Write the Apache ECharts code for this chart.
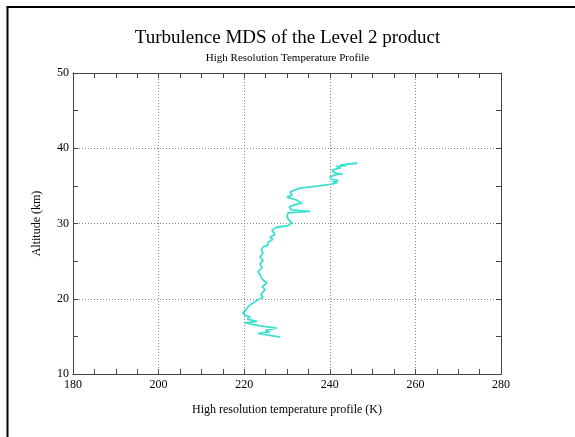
<!DOCTYPE html>
<html>
<head>
<meta charset="utf-8">
<script src="https://cdn.jsdelivr.net/npm/echarts@6/dist/echarts.min.js"></script>
<style>
  html, body { margin: 0; padding: 0; background: #fff; }
  #chart { width: 575px; height: 437px; }
</style>
</head>
<body>
<div id="chart"></div>
<script>
// High resolution temperature profile (K) against altitude (km), bottom to top
const temperatureK = [
  228.4, 223.2, 226.0, 224.9, 227.6, 223.7, 220.2, 223.0, 220.7, 221.4,
  220.2, 219.7, 220.3, 220.7, 221.4, 222.5, 223.7, 224.4, 223.9, 224.2,
  224.9, 224.2, 225.3, 224.4, 224.0, 223.7, 223.2, 224.2, 223.7, 224.4,
  223.7, 224.4, 224.0, 224.4, 225.5, 225.6, 226.7, 226.0, 227.2, 226.5,
  227.6, 230.2, 231.2, 230.4, 230.0, 230.2, 235.4, 231.0, 230.5, 231.9,
  233.5, 232.3, 230.0, 231.2, 230.7, 233.0, 237.5, 240.0, 241.7, 240.7,
  242.0, 240.3, 240.0, 241.5, 243.0, 241.2, 240.5, 242.5, 241.5, 244.0,
  242.4, 246.4, 243.5
];
const altitudeKm = [
  14.9, 15.4, 15.6, 15.8, 16.1, 16.4, 16.8, 17.0, 17.3, 17.6,
  17.8, 18.1, 18.4, 18.8, 19.2, 19.6, 20.0, 20.2, 20.5, 20.8,
  21.2, 21.6, 22.1, 22.5, 22.8, 23.2, 23.6, 24.1, 24.6, 25.1,
  25.5, 26.1, 26.5, 26.9, 27.1, 27.5, 27.9, 28.2, 28.5, 29.1,
  29.5, 29.7, 30.1, 30.5, 30.9, 31.4, 31.6, 31.8, 32.2, 32.5,
  32.7, 33.1, 33.5, 33.8, 34.2, 34.7, 35.0, 35.2, 35.4, 35.5,
  35.7, 35.9, 36.2, 36.5, 36.6, 36.7, 37.1, 37.4, 37.6, 37.7,
  37.8, 38.0, 37.9
];
const xTicks = [180, 200, 220, 240, 260, 280];
const yTicks = [10, 20, 30, 40, 50];

const serif = '"Liberation Serif", "DejaVu Serif", serif';
const frameColor = '#444';
const xMin = xTicks[0], xMax = xTicks[xTicks.length - 1];
const yMin = yTicks[0], yMax = yTicks[yTicks.length - 1];

const chart = echarts.init(document.getElementById('chart'), null, { renderer: 'canvas' });

// Main axis: labels and dotted grid lines; the extra axes draw the inward minor ticks on all sides
function xAxisMain() {
  return {
    type: 'value', position: 'bottom', min: xMin, max: xMax, interval: 20,
    name: 'High resolution temperature profile (K)', nameLocation: 'middle', nameGap: 30,
    nameTextStyle: { fontFamily: serif, fontSize: 12, color: '#000' },
    axisLine: { show: true, onZero: false, lineStyle: { color: frameColor, width: 1 } },
    axisTick: { show: false },
    axisLabel: { fontFamily: serif, fontSize: 12, color: '#000', margin: 5 },
    splitLine: { show: true, lineStyle: { color: '#888', type: [1, 2], width: 1 } }
  };
}
function tickAxisX(pos) {
  return {
    type: 'value', position: pos, min: xMin, max: xMax, interval: 5,
    axisLine: { show: true, onZero: false, lineStyle: { color: frameColor, width: 1 } },
    axisTick: { show: true, inside: true, length: 5, lineStyle: { color: frameColor } },
    axisLabel: { show: false }, splitLine: { show: false }
  };
}
function yAxisMain() {
  return {
    type: 'value', position: 'left', min: yMin, max: yMax, interval: 10,
    name: 'Altitude (km)', nameLocation: 'middle', nameGap: 30, nameRotate: 90,
    nameTextStyle: { fontFamily: serif, fontSize: 12, color: '#000' },
    axisLine: { show: true, onZero: false, lineStyle: { color: frameColor, width: 1 } },
    axisTick: { show: false },
    axisLabel: { fontFamily: serif, fontSize: 12, color: '#000', margin: 4 },
    splitLine: { show: true, lineStyle: { color: '#888', type: [1, 2], width: 1 } }
  };
}
function tickAxisY(pos) {
  return {
    type: 'value', position: pos, min: yMin, max: yMax, interval: 5,
    axisLine: { show: true, onZero: false, lineStyle: { color: frameColor, width: 1 } },
    axisTick: { show: true, inside: true, length: 5, lineStyle: { color: frameColor } },
    axisLabel: { show: false }, splitLine: { show: false }
  };
}

const profile = temperatureK.map((t, i) => [t, altitudeKm[i]]);

chart.setOption({
  backgroundColor: '#fff',
  animation: false,
  title: [
    { text: 'Turbulence MDS of the Level 2 product', left: 'center', top: 24,
      textStyle: { fontFamily: serif, fontSize: 19, fontWeight: 'normal', color: '#000' } },
    { text: 'High Resolution Temperature Profile', left: 'center', top: 48,
      textStyle: { fontFamily: serif, fontSize: 11, fontWeight: 'normal', color: '#000' } }
  ],
  grid: { left: 73, top: 73, right: 74, bottom: 63, containLabel: false },
  xAxis: [xAxisMain(), tickAxisX('bottom'), tickAxisX('top')],
  yAxis: [yAxisMain(), tickAxisY('left'), tickAxisY('right')],
  graphic: [
    { type: 'line', shape: { x1: 7.5, y1: 7, x2: 7.5, y2: 437 }, style: { stroke: '#000', lineWidth: 2 } },
    { type: 'line', shape: { x1: 6.5, y1: 7, x2: 575, y2: 7 }, style: { stroke: '#000', lineWidth: 2 } }
  ],
  series: [{
    type: 'line',
    data: profile,
    xAxisIndex: 0, yAxisIndex: 0,
    showSymbol: false,
    lineStyle: { color: '#40e0d0', width: 1.8 },
    silent: true
  }]
});
</script>
</body>
</html>
